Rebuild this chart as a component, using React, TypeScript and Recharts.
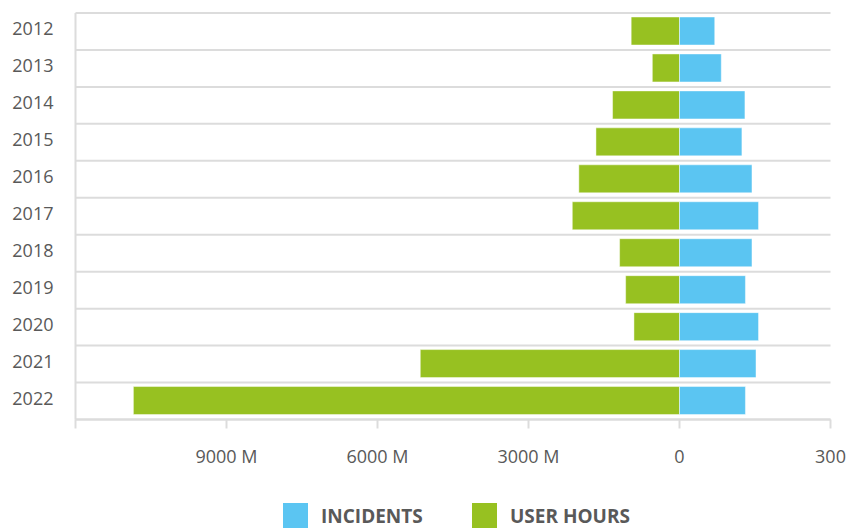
import React from 'react';
import { BarChart, Bar, XAxis, YAxis, CartesianGrid } from 'recharts';

const years = ['2012', '2013', '2014', '2015', '2016', '2017', '2018', '2019', '2020', '2021', '2022'];
// user hours in millions
const userHoursM = [960, 540, 1330, 1660, 2000, 2130, 1190, 1070, 905, 5150, 10850];
const incidents = [70, 83, 130, 124, 144, 157, 144, 131, 157, 152, 131];
const xTicks = [-12000, -9000, -6000, -3000, 0, 3000];

// incidents share the axis with user hours: 300 incidents sits where 3000 M would
const INCIDENT_SCALE = 10;

const data = years.map((year, i) => ({
  year,
  hours: -userHoursM[i],
  incidents: incidents[i] * INCIDENT_SCALE
}));

const BLUE = '#5bc5f2';
const GREEN = '#97c121';
const TEXT = '#595959';
const GRID = '#dcdcdc';

const formatTick = (v: number) => {
  if (v === -12000) return '';
  if (v < 0) return `${-v} M`;
  if (v > 0) return `${v / INCIDENT_SCALE}`;
  return '0';
};

const YearTick = ({ x, y, payload }: any) => (
  <text x={x} y={y} dy={4} textAnchor="end" fill={TEXT} fontSize={18}>
    {payload.value}
  </text>
);

const LegendItem = ({ color, label, left }: { color: string; label: string; left: number }) => (
  <>
    <div style={{ position: 'absolute', left, top: 503, width: 25, height: 25, background: color }} />
    <div
      style={{
        position: 'absolute',
        left: left + 38,
        top: 507,
        fontSize: 19,
        lineHeight: '19px',
        fontWeight: 700,
        color: TEXT,
        whiteSpace: 'nowrap'
      }}
    >
      {label}
    </div>
  </>
);

export default function App() {
  return (
    <div
      style={{
        position: 'absolute',
        left: 0,
        top: 0,
        width: 846,
        height: 529,
        background: '#fff',
        fontFamily: '"Open Sans", sans-serif',
        overflow: 'hidden'
      }}
    >
      <BarChart
        width={846}
        height={480}
        data={data}
        layout="vertical"
        stackOffset="sign"
        barSize={28}
        margin={{ top: 13, right: 15.5, bottom: 0, left: 0 }}
      >
        <CartesianGrid
          vertical={false}
          stroke={GRID}
          strokeWidth={2}
          horizontalCoordinatesGenerator={({ offset }: any) =>
            [...years, ''].map((_, i) => offset.top + (i * offset.height) / years.length)
          }
        />
        <XAxis
          type="number"
          domain={[-12000, 3000]}
          ticks={xTicks}
          interval={0}
          allowDataOverflow
          tickFormatter={formatTick}
          height={60.5}
          tickSize={9}
          tickMargin={22}
          axisLine={{ stroke: GRID, strokeWidth: 2 }}
          tickLine={{ stroke: GRID, strokeWidth: 2 }}
          tick={{ fill: TEXT, fontSize: 18 }}
        />
        <YAxis
          type="category"
          dataKey="year"
          width={75.5}
          tickSize={0}
          tickMargin={22}
          interval={0}
          axisLine={{ stroke: GRID, strokeWidth: 2 }}
          tickLine={false}
          tick={<YearTick />}
        />
        <Bar
          dataKey="hours"
          stackId="a"
          fill={GREEN}
          stroke="rgba(255,255,255,0.45)"
          strokeWidth={1}
          isAnimationActive={false}
        />
        <Bar
          dataKey="incidents"
          stackId="a"
          fill={BLUE}
          stroke="rgba(255,255,255,0.45)"
          strokeWidth={1}
          isAnimationActive={false}
        />
      </BarChart>
      <LegendItem color={BLUE} label="INCIDENTS" left={283} />
      <LegendItem color={GREEN} label="USER HOURS" left={472} />
    </div>
  );
}
